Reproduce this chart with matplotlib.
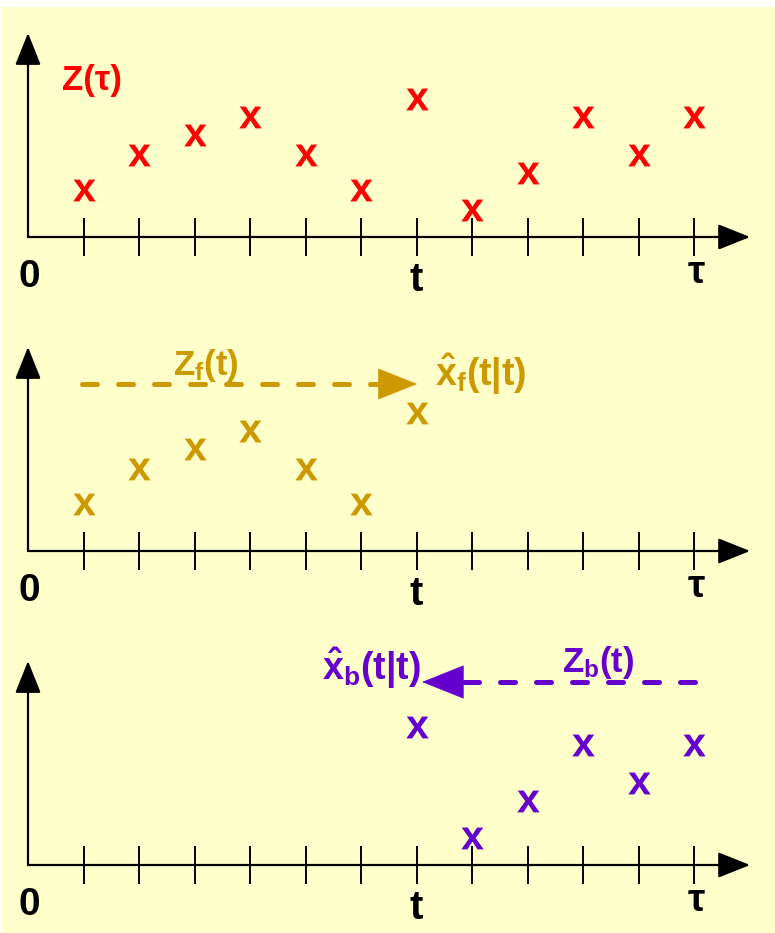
import matplotlib.pyplot as plt
from matplotlib.patches import Rectangle

plt.rcParams['mathtext.fontset'] = 'custom'
plt.rcParams['mathtext.rm'] = 'Liberation Sans:bold'
plt.rcParams['mathtext.bf'] = 'Liberation Sans:bold'
plt.rcParams['mathtext.it'] = 'Liberation Sans:italic'
plt.rcParams['font.family'] = ['Liberation Sans', 'DejaVu Sans']

# measurement times 1..12 (t = 7, tau = 12) and measured levels
times = list(range(1, 13))
z = [2.35, 4.1, 5.1, 6.0, 4.1, 2.35, 6.9, 1.35, 3.2, 6.0, 4.1, 6.0]
t_idx = 7
times_f, z_f = times[:t_idx], z[:t_idx]
times_b, z_b = times[t_idx - 1:], z[t_idx - 1:]

red = '#FF0000'
gold = '#CC9900'
purple = '#6600CC'

W, H = 775, 933
px_x = 55.5   # pixels per time step
px_y = 20.0   # pixels per level unit
x0 = 28       # origin in pixels

fig = plt.figure(figsize=(W / 100, H / 100), dpi=100, facecolor='white')
fig.patches.append(Rectangle((2 / W, 0), 1, (H - 7) / H, transform=fig.transFigure,
                             facecolor='#FFFFCC', edgecolor='none', zorder=-10))


def make_panel(axis_y):
    ax = fig.add_axes([0, (H - axis_y - 60) / H, 1, 290 / H])
    ax.set_xlim(-x0 / px_x, (W - x0) / px_x)
    ax.set_ylim(-3, 11.5)
    ax.axis('off')
    ax.patch.set_visible(False)
    head = dict(arrowstyle='-|>,head_length=1.0,head_width=0.4', lw=1.6,
                color='black', mutation_scale=20, shrinkA=0, shrinkB=0)
    ax.annotate('', xy=(13.01, 0), xytext=(0, 0), arrowprops=head)
    ax.annotate('', xy=(0, 10.2), xytext=(0, 0), arrowprops=head)
    ax.vlines(times, -0.95, 0.95, color='black', lw=1.4)
    ax.text(0.03, -2.5, '0', ha='center', va='baseline', fontsize=28,
            fontweight='bold')
    ax.text(t_idx, -2.7, 't', ha='center', va='baseline', fontsize=29,
            fontweight='bold')
    ax.text(12.05, -2.3, 'τ', ha='center', va='baseline', fontsize=28,
            fontweight='bold')
    return ax


def dashed_arrow(ax, start, base, tip, y, color, length_pt):
    ax.plot([start, base], [y, y], color=color, lw=3.6, dashes=(3, 4.2),
            dash_capstyle='round', solid_capstyle='round')
    ax.annotate('', xy=(tip, y), xytext=(base, y),
                arrowprops=dict(arrowstyle='-|>,head_length=1.0,head_width=0.4',
                                lw=0.5, color=color, mutation_scale=length_pt,
                                shrinkA=0, shrinkB=0))


mk = r'$\mathbf{x}$'
ms = 260

# panel 1: all measurements
ax1 = make_panel(237)
ax1.scatter(times, z, marker=mk, s=ms, color=red, linewidths=0)
ax1.text(0.61, 7.35, 'Z(τ)', color=red, fontsize=25, fontweight='bold',
         va='baseline')

# panel 2: forward filter
ax2 = make_panel(551)
ax2.scatter(times_f, z_f, marker=mk, s=ms, color=gold, linewidths=0)
dashed_arrow(ax2, 0.97, 6.34, 7.01, 8.35, gold, 27)
ax2.text(2.61, 8.8, r'Z$_{\mathbf{f}}$(t)', color=gold, fontsize=25,
         fontweight='bold', va='baseline')
ax2.text(7.33, 8.25, r'$\hat{\mathbf{x}}_{\mathbf{f}}\mathbf{(t|t)}$',
         color=gold, fontsize=27, va='baseline')

# panel 3: backward filter
ax3 = make_panel(865)
ax3.scatter(times_b, z_b, marker=mk, s=ms, color=purple, linewidths=0)
dashed_arrow(ax3, 12.02, 7.82, 7.10, 9.15, purple, 29)
ax3.text(9.62, 9.65, r'Z$_{\mathbf{b}}$(t)', color=purple, fontsize=25,
         fontweight='bold', va='baseline')
ax3.text(5.3, 9.25, r'$\hat{\mathbf{x}}_{\mathbf{b}}\mathbf{(t|t)}$',
         color=purple, fontsize=27, va='baseline')

fig.savefig('out.png', dpi=100)
